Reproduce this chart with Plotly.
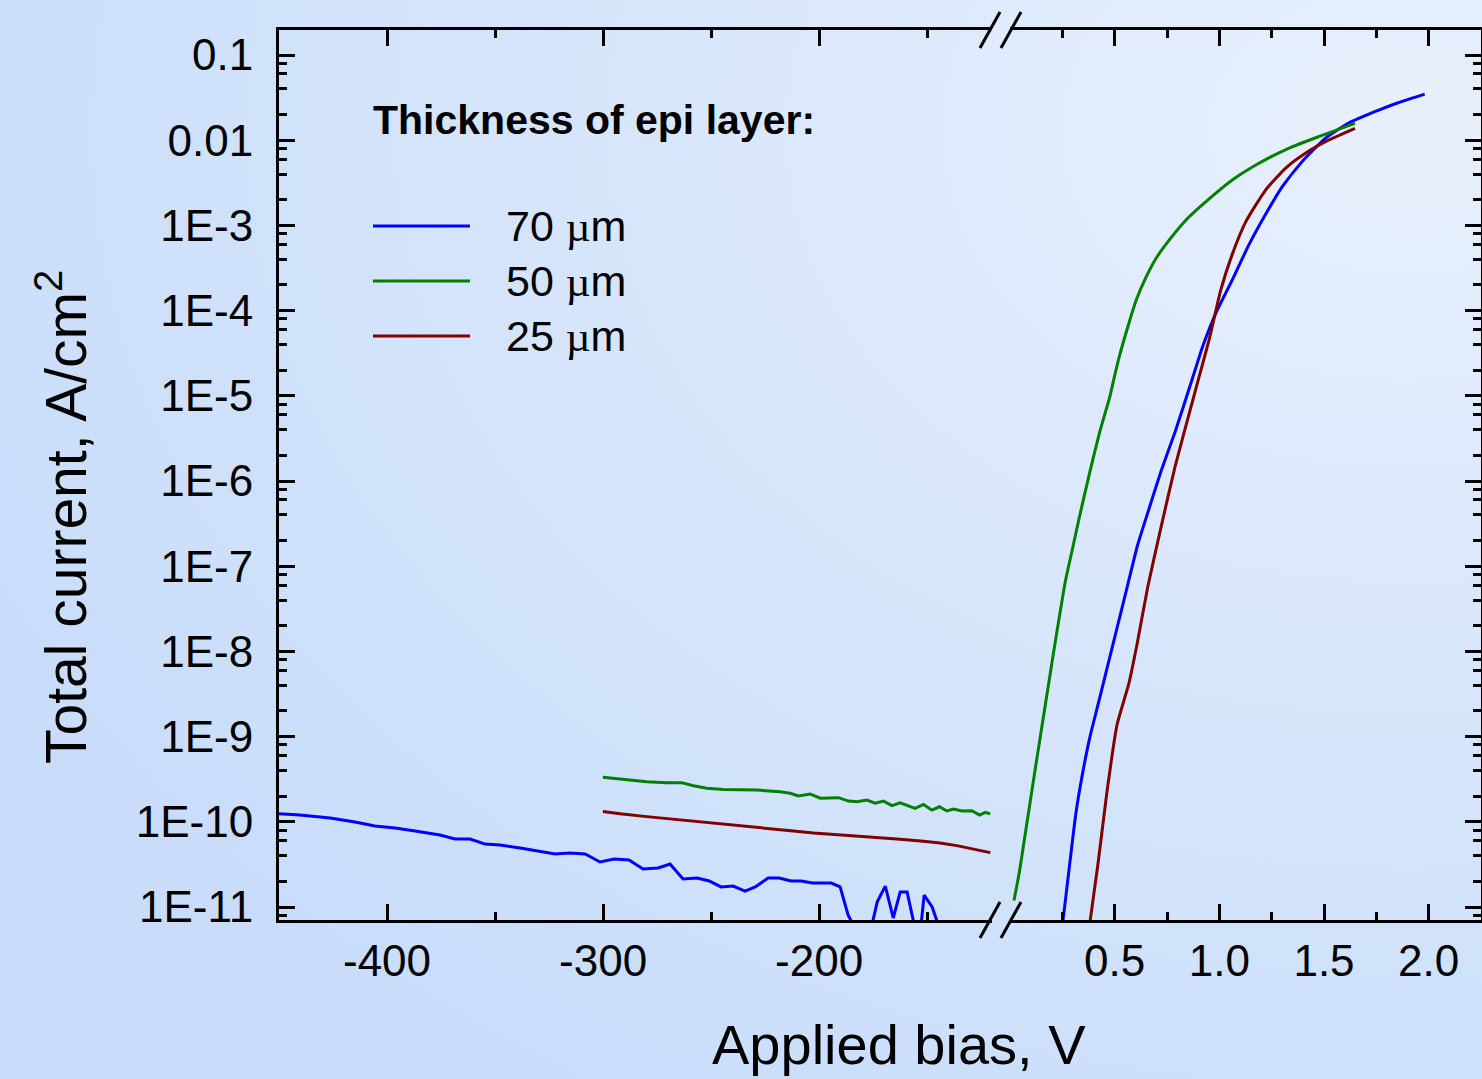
import base64
import plotly.graph_objects as go

# ---------------- data ----------------
# Reverse bias, 70 um
rev_v_70 = [-450, -440.3, -426.4, -414.8, -405.6, -396.3, -387.0, -375.5, -368.5, -361.6,
            -354.6, -347.7, -338.4, -329.2, -322.2, -315.3, -308.3, -301.4, -294.9, -288.0,
            -281.5, -274.5, -269.0, -263.0, -256.5, -250.9, -245.4, -239.8, -234.3, -229.6,
            -223.6, -218.5, -213.0, -208.3, -203.2, -194.4, -190.3, -186.6, -182.4, -176.4,
            -173.1, -169.4, -165.7, -162.5, -159.3, -156.0, -153.2, -151.4, -147.7, -144.9]
rev_j_70 = [1.24e-10, 1.20e-10, 1.11e-10, 9.95e-11, 8.93e-11, 8.45e-11, 7.80e-11, 7.00e-11, 6.28e-11, 6.28e-11,
            5.48e-11, 5.35e-11, 4.92e-11, 4.54e-11, 4.19e-11, 4.31e-11, 4.19e-11, 3.37e-11, 3.66e-11, 3.56e-11,
            2.79e-11, 2.87e-11, 3.20e-11, 2.13e-11, 2.19e-11, 2.02e-11, 1.72e-11, 1.76e-11, 1.54e-11, 1.72e-11,
            2.19e-11, 2.19e-11, 2.02e-11, 2.02e-11, 1.91e-11, 1.91e-11, 1.72e-11, 8.05e-12, 5.0e-12, 5.0e-12,
            1.15e-11, 1.76e-11, 7.43e-12, 1.50e-11, 1.50e-11, 6.2e-12, 5.0e-12, 1.38e-11, 1.00e-11, 6.2e-12]

# Reverse bias, 50 um
rev_v_50 = [-300.1, -290.6, -279.8, -270.5, -263.6, -258.2, -252.0, -244.3, -233.5, -228.8,
            -218.1, -213.4, -209.6, -204.2, -199.5, -191.1, -186.4, -182.5, -177.9, -174.1,
            -170.2, -166.3, -162.5, -155.6, -151.7, -147.8, -144.3, -140.9, -137.8, -133.9,
            -129.3, -125.8, -123.1, -120.8]
rev_j_50 = [3.33e-10, 3.16e-10, 2.96e-10, 2.88e-10, 2.88e-10, 2.65e-10, 2.47e-10, 2.40e-10, 2.36e-10, 2.36e-10,
            2.25e-10, 2.16e-10, 2.01e-10, 2.12e-10, 1.89e-10, 1.92e-10, 1.75e-10, 1.72e-10, 1.80e-10, 1.65e-10,
            1.75e-10, 1.55e-10, 1.67e-10, 1.44e-10, 1.60e-10, 1.37e-10, 1.50e-10, 1.34e-10, 1.41e-10, 1.34e-10,
            1.35e-10, 1.20e-10, 1.29e-10, 1.24e-10]

# Reverse bias, 25 um
rev_v_25 = [-300.1, -292.1, -279.8, -267.5, -255.1, -242.7, -233.5, -224.2, -211.9, -202.6,
            -193.4, -182.5, -171.8, -164.0, -151.7, -144.0, -136.3, -128.6, -120.8]
rev_j_25 = [1.32e-10, 1.24e-10, 1.15e-10, 1.07e-10, 9.95e-11, 9.16e-11, 8.75e-11, 8.22e-11, 7.80e-11, 7.40e-11,
            7.13e-11, 6.81e-11, 6.58e-11, 6.28e-11, 5.90e-11, 5.64e-11, 5.25e-11, 4.80e-11, 4.35e-11]

# Forward bias
fwd_v_70 = [0.253, 0.282, 0.314, 0.347, 0.380, 0.421, 0.462, 0.511, 0.560, 0.609, 0.666, 0.724, 0.789,
            0.866, 0.920, 0.983, 1.062, 1.141, 1.221, 1.300, 1.395, 1.506, 1.616, 1.743, 1.854, 1.981]
fwd_j_70 = [6.90e-12, 2.74e-11, 1.22e-10, 3.73e-10, 9.48e-10, 2.40e-9, 6.10e-9, 1.87e-8, 5.71e-8, 1.75e-7,
            4.88e-7, 1.36e-6, 3.79e-6, 1.45e-5, 3.77e-5, 9.29e-5, 2.30e-4, 5.90e-4, 1.35e-3, 2.84e-3,
            5.60e-3, 1.05e-2, 1.58e-2, 2.16e-2, 2.75e-2, 3.48e-2]

fwd_v_50 = [0.019, 0.044, 0.068, 0.093, 0.118, 0.150, 0.175, 0.207, 0.240, 0.265, 0.298, 0.330, 0.380,
            0.429, 0.478, 0.495, 0.524, 0.563, 0.603, 0.651, 0.698, 0.761, 0.841, 0.936, 1.062, 1.189,
            1.331, 1.474, 1.569, 1.648]
fwd_j_50 = [1.19e-11, 2.51e-11, 6.03e-11, 1.51e-10, 3.80e-10, 1.20e-9, 2.95e-9, 9.33e-9, 2.95e-8, 6.76e-8,
            1.58e-7, 3.63e-7, 1.24e-6, 3.79e-6, 1.00e-5, 1.53e-5, 3.00e-5, 6.47e-5, 1.33e-4, 2.50e-4,
            4.11e-4, 6.75e-4, 1.16e-3, 1.90e-3, 3.41e-3, 5.36e-3, 8.04e-3, 1.10e-2, 1.34e-2, 1.58e-2]

fwd_v_25 = [0.383, 0.421, 0.462, 0.511, 0.568, 0.609, 0.658, 0.724, 0.789, 0.855, 0.899, 0.951, 1.007,
            1.062, 1.126, 1.221, 1.316, 1.411, 1.521, 1.648]
fwd_j_25 = [6.90e-12, 3.30e-11, 2.13e-10, 1.37e-9, 4.21e-9, 1.29e-8, 5.71e-8, 3.06e-7, 1.49e-6, 6.04e-6,
            1.53e-5, 4.52e-5, 1.75e-4, 4.60e-4, 1.10e-3, 2.60e-3, 4.68e-3, 7.02e-3, 1.00e-2, 1.38e-2]

series_names = ["70 µm", "50 µm", "25 µm"]
series_colors = ["#0000ff", "#008000", "#800000"]

y_tickvals = [1e-1, 1e-2, 1e-3, 1e-4, 1e-5, 1e-6, 1e-7, 1e-8, 1e-9, 1e-10, 1e-11]
y_ticktext = ["0.1", "0.01", "1E-3", "1E-4", "1E-5", "1E-6", "1E-7", "1E-8", "1E-9", "1E-10", "1E-11"]
y_minor = [m * 10.0 ** e for e in range(-12, 0) for m in (2, 4, 6, 8)]

x1_tickvals = [-400, -300, -200]
x1_minor = [-350, -250, -150]
x2_tickvals = [0.5, 1.0, 1.5, 2.0]
x2_ticktext = ["0.5", "1.0", "1.5", "2.0"]
x2_minor = [0.25, 0.75, 1.25, 1.75]

# ---------------- layout geometry ----------------
W, H = 1482, 1079
ML, MR, MT, MB = 279, 1, 30, 159
PW, PH = W - ML - MR, H - MT - MB


def px(x):
    return (x - ML) / PW


def py(y):
    return (H - MB - y) / PH


FONT = "Liberation Sans, Arial, sans-serif"

fig = go.Figure()

rev = [(rev_v_70, rev_j_70), (rev_v_50, rev_j_50), (rev_v_25, rev_j_25)]
fwd = [(fwd_v_70, fwd_j_70), (fwd_v_50, fwd_j_50), (fwd_v_25, fwd_j_25)]
for (v, j), name, col in zip(rev, series_names, series_colors):
    fig.add_trace(go.Scatter(x=v, y=j, mode="lines", name=name, showlegend=False,
                             line=dict(color=col, width=3), xaxis="x", yaxis="y"))
for (v, j), name, col in zip(fwd, series_names, series_colors):
    fig.add_trace(go.Scatter(x=v, y=j, mode="lines", name=name, showlegend=False,
                             line=dict(color=col, width=3, shape="spline", smoothing=0.5),
                             xaxis="x2", yaxis="y2"))

tickfont = dict(family=FONT, size=44, color="black")
axis_common = dict(showline=True, linecolor="black", linewidth=3, ticks="inside",
                   ticklen=16, tickwidth=3, tickcolor="black", showgrid=False,
                   zeroline=False, tickfont=tickfont)

fig.update_layout(
    width=W, height=H,
    margin=dict(l=ML, r=MR, t=MT, b=MB),
    paper_bgcolor="#d3e3fb",
    plot_bgcolor="rgba(0,0,0,0)",
    showlegend=False,
    xaxis=dict(domain=[0, px(992)], range=[-450, -120], anchor="y", mirror="ticks",
               tickmode="array", tickvals=x1_tickvals, ticktext=[str(t) for t in x1_tickvals],
               minor=dict(tickmode="array", tickvals=x1_minor, ticks="inside", ticklen=8,
                          tickwidth=3, tickcolor="black"),
               ticklabelstandoff=0, **axis_common),
    xaxis2=dict(domain=[px(1010), 1], range=[0, 2.25], anchor="y2", mirror="ticks",
                tickmode="array", tickvals=x2_tickvals, ticktext=x2_ticktext,
                minor=dict(tickmode="array", tickvals=x2_minor, ticks="inside", ticklen=8,
                           tickwidth=3, tickcolor="black"),
                ticklabelstandoff=0, **axis_common),
    yaxis=dict(type="log", range=[-11.1526, -0.7066], anchor="x", side="left",
               tickmode="array", tickvals=y_tickvals, ticktext=y_ticktext,
               minor=dict(tickmode="array", tickvals=y_minor, ticks="inside", ticklen=8,
                          tickwidth=3, tickcolor="black"),
               ticklabelstandoff=14, **axis_common),
    yaxis2=dict(type="log", range=[-11.1526, -0.7066], anchor="x2", side="right",
                matches="y", tickmode="array", tickvals=y_tickvals, showticklabels=False,
                minor=dict(tickmode="array", tickvals=y_minor, ticks="inside", ticklen=8,
                           tickwidth=3, tickcolor="black"),
                **axis_common),
)

# background gradient
svg = ('<svg xmlns="http://www.w3.org/2000/svg" width="1482" height="1079">'
       '<defs><radialGradient id="g" cx="0.95" cy="0.12" r="1.05">'
       '<stop offset="0" stop-color="#e9f0fd"/><stop offset="0.55" stop-color="#d6e5fb"/>'
       '<stop offset="1" stop-color="#c9ddfa"/></radialGradient></defs>'
       '<rect width="1482" height="1079" fill="url(#g)"/></svg>')
src = "data:image/svg+xml;base64," + base64.b64encode(svg.encode()).decode()
fig.add_layout_image(dict(source=src, xref="paper", yref="paper", x=px(0), y=py(0),
                          sizex=W / PW, sizey=H / PH, xanchor="left", yanchor="top",
                          sizing="stretch", layer="below"))

# axis break marks
shapes = []
for yc in (920, 30):
    for xc in (990, 1011):
        shapes.append(dict(type="line", xref="paper", yref="paper",
                           x0=px(xc - 10), y0=py(yc + 18), x1=px(xc + 10), y1=py(yc - 18),
                           line=dict(color="black", width=3)))

# legend (drawn manually)
legend_y = [226, 281, 336]
for yy, col in zip(legend_y, series_colors):
    shapes.append(dict(type="line", xref="paper", yref="paper",
                       x0=px(373), x1=px(470), y0=py(yy), y1=py(yy),
                       line=dict(color=col, width=3)))
fig.update_layout(shapes=shapes)

annotations = [
    dict(text="<b>Thickness of epi layer:</b>", x=px(371), y=py(120), xref="paper", yref="paper",
         xanchor="left", yanchor="middle", showarrow=False,
         font=dict(family=FONT, size=41, color="black")),
    dict(text="Applied bias, V", x=px(899), y=py(1044), xref="paper", yref="paper",
         xanchor="center", yanchor="middle", showarrow=False,
         font=dict(family=FONT, size=56, color="black")),
    dict(text="Total current, A/cm<sup>2</sup>", x=px(62), y=py(517), xref="paper", yref="paper",
         xanchor="center", yanchor="middle", showarrow=False, textangle=-90,
         font=dict(family=FONT, size=57, color="black")),
]
for yy, name in zip(legend_y, series_names):
    num = name.split(" ")[0]
    annotations.append(dict(
        text=num + " <span style=\"font-family:Liberation Serif\">µ</span>m",
        x=px(504), y=py(yy), xref="paper", yref="paper", xanchor="left", yanchor="middle",
        showarrow=False, font=dict(family=FONT, size=43, color="black")))
fig.update_layout(annotations=annotations)

fig.write_html("out.html")
